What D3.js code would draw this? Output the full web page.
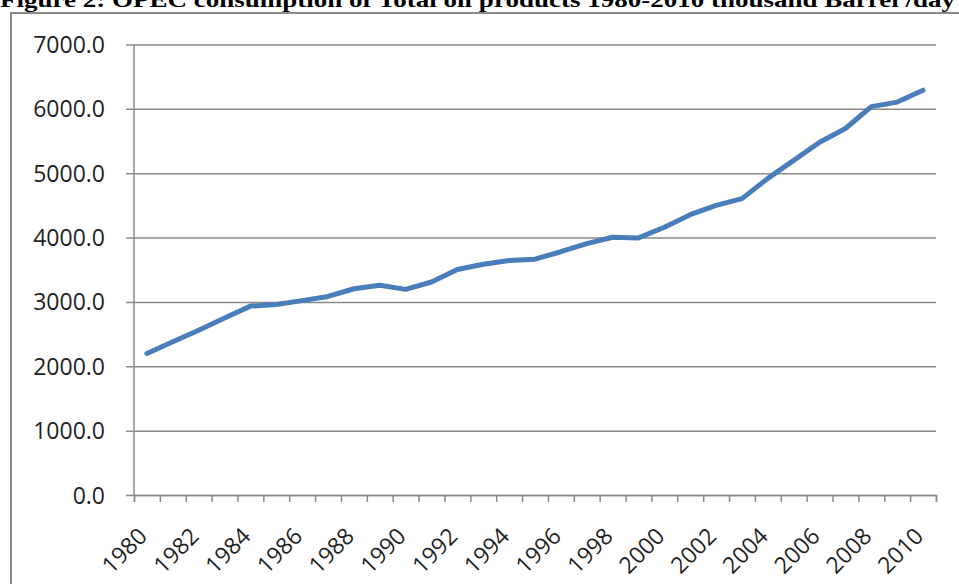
<!DOCTYPE html>
<html>
<head>
<meta charset="utf-8">
<script src="https://cdn.jsdelivr.net/npm/d3@7"></script>
<style>
  body { margin: 0; background: #fff; }
  svg { display: block; }
</style>
</head>
<body>
<div id="chart"></div>
<script>
// OPEC consumption of total oil products, thousand barrel/day
const years = d3.range(1980, 2011).map(String);
const consumption = [
  2200, 2380, 2560, 2750, 2935, 2960, 3020, 3085, 3205, 3260,
  3195, 3310, 3505, 3585, 3645, 3665, 3780, 3905, 4005, 3995,
  4160, 4355, 4500, 4605, 4920, 5200, 5480, 5695, 6035, 6105,
  6290
];
const yTicks = [0, 1000, 2000, 3000, 4000, 5000, 6000, 7000];
const xLabelYears = years.filter((d, i) => i % 2 === 0);
const titleText = "Figure 2: OPEC consumption of Total oil products 1980-2010 thousand Barrel /day";

const width = 959, height = 584;
const margin = { left: 134, right: 23, top: 44.5, bottom: 89 };
const innerW = width - margin.left - margin.right;
const innerH = height - margin.top - margin.bottom;
const gray = "#8a8a8a";
const labelFont = "'Open Sans', 'Liberation Sans', sans-serif";

const svg = d3.select("#chart").append("svg")
  .attr("width", width).attr("height", height);

// title (cut off at the top in the source)
svg.append("text")
  .attr("x", 0).attr("y", 7)
  .attr("textLength", 955).attr("lengthAdjust", "spacingAndGlyphs")
  .style("font-family", "'Liberation Serif', 'Times New Roman', serif")
  .style("font-weight", "bold").style("font-size", "22px")
  .text(titleText);

// outer frame of the figure
svg.append("rect")
  .attr("x", 11).attr("y", 13)
  .attr("width", 1000).attr("height", 700)
  .attr("fill", "none").attr("stroke", gray).attr("stroke-width", 2);

const ChartArea = svg.append("g")
  .attr("transform", `translate(${margin.left},${margin.top})`);

const x = d3.scaleBand().domain(years).range([0, innerW]).padding(0);
const xb = d3.scaleLinear().domain([0, years.length]).range([0, innerW]);
const y = d3.scaleLinear().domain([0, 7000]).range([innerH, 0]);

// gridlines + y labels
const AxisY = ChartArea.append("g")
  .call(d3.axisLeft(y).tickValues(yTicks).tickSize(-innerW).tickFormat(d3.format(".1f")));
AxisY.select(".domain").remove();
AxisY.selectAll(".tick line")
  .attr("x1", -8).attr("x2", innerW)
  .attr("stroke", gray).attr("stroke-width", 1.5);
AxisY.selectAll(".tick text")
  .attr("x", -29).attr("dy", "0.35em")
  .attr("fill", "#1f1f1f")
  .style("font-family", labelFont)
  .style("font-size", "23px");

// vertical axis line
ChartArea.append("line")
  .attr("x1", 0).attr("x2", 0).attr("y1", 0).attr("y2", innerH)
  .attr("stroke", gray).attr("stroke-width", 1.5);

// x tick marks between categories
const AxisX = ChartArea.append("g")
  .attr("transform", `translate(0,${innerH})`)
  .call(d3.axisBottom(xb).tickValues(d3.range(0, years.length + 1)).tickSize(7).tickFormat(""));
AxisX.select(".domain").attr("stroke", gray).attr("stroke-width", 1.5);
AxisX.selectAll(".tick line").attr("stroke", gray).attr("stroke-width", 1.5);

// rotated year labels
ChartArea.selectAll(".x_label")
  .data(xLabelYears)
  .join("text")
  .attr("class", "x_label")
  .attr("transform", d => `translate(${x(d) + x.bandwidth() / 2 - 4},${innerH + 37}) rotate(-45)`)
  .attr("text-anchor", "end")
  .attr("dy", "0.35em")
  .attr("fill", "#1f1f1f")
  .style("font-family", labelFont)
  .style("font-size", "23px")
  .text(d => d);

// data line
const line = d3.line()
  .x((d, i) => x(years[i]) + x.bandwidth() / 2)
  .y(d => y(d));

ChartArea.append("path")
  .datum(consumption)
  .attr("d", line)
  .attr("fill", "none")
  .attr("stroke", "#4a7ebb")
  .attr("stroke-width", 5)
  .attr("stroke-linejoin", "round")
  .attr("stroke-linecap", "round");
</script>
</body>
</html>
